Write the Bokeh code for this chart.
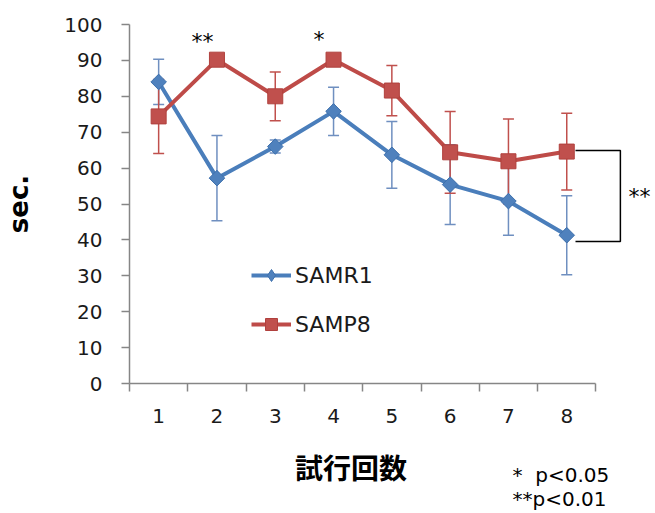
from bokeh.plotting import figure
from bokeh.layouts import column
from bokeh.models import Range1d, FixedTicker, Label, Legend, LegendItem
from bokeh.embed import file_html
from bokeh.resources import INLINE
from bokeh.core.properties import value

# ---- data ----
trials = [1, 2, 3, 4, 5, 6, 7, 8]
samr1 = [84.0, 57.2, 66.0, 75.8, 63.7, 55.4, 50.8, 41.3]
samr1_err = [6.3, 11.9, 1.8, 6.7, 9.3, 11.1, 9.5, 11.0]
samp8 = [74.4, 90.2, 80.0, 90.2, 81.6, 64.4, 61.9, 64.6]
samp8_err = [10.3, 1.5, 6.8, 1.5, 7.0, 11.4, 11.8, 10.7]
y_ticks = [0, 10, 20, 30, 40, 50, 60, 70, 80, 90, 100]
sig_trials = [2, 4]
sig_marks = ["**", "*"]

BLUE = "#4A7EBB"
RED = "#BE4B48"
BLUE_ERR = "#6F8FC0"
RED_ERR = "#C0504D"
AXIS = "#868686"

# frame geometry helpers (annotation placement only)
W = 655
FL, FR, FT, FB = 129, 655, 24, 383
H1 = 445
XMAX = 0.5 + (FR - FL) / 58.3


def px_to_x(px):
    return 0.5 + (px - FL) * (XMAX - 0.5) / (FR - FL)


def py_to_y(py):
    return (FB - py) * 100.0 / (FB - FT)


p = figure(width=W, height=H1, output_backend="svg", toolbar_location=None,
           x_range=Range1d(0.5, XMAX), y_range=Range1d(0, 100),
           min_border_left=FL, min_border_right=0, min_border_top=FT,
           min_border_bottom=H1 - FB)
p.outline_line_color = None
p.xgrid.grid_line_color = None
p.ygrid.grid_line_color = None
p.background_fill_color = "white"
p.border_fill_color = "white"

# x axis
xa = p.xaxis[0]
xa.ticker = FixedTicker(ticks=trials, minor_ticks=[t - 0.5 for t in trials] + [trials[-1] + 0.5])
xa.bounds = (0.5, 8.5)
xa.axis_line_color = AXIS
xa.axis_line_width = 1.5
xa.major_tick_line_color = None
xa.major_tick_out = 0
xa.major_tick_in = 0
xa.minor_tick_line_color = AXIS
xa.minor_tick_line_width = 1.5
xa.minor_tick_out = 8
xa.minor_tick_in = 0
xa.major_label_standoff = 17
xa.major_label_text_font = "DejaVu Sans"
xa.major_label_text_font_size = "20px"
xa.major_label_text_color = "#1a1a1a"

# y axis
ya = p.yaxis[0]
ya.ticker = FixedTicker(ticks=y_ticks, minor_ticks=[])
ya.bounds = (0, 100)
ya.axis_line_color = AXIS
ya.axis_line_width = 1.5
ya.major_tick_line_color = AXIS
ya.major_tick_line_width = 1.5
ya.major_tick_out = 8
ya.major_tick_in = 0
ya.major_label_standoff = 19
ya.major_label_text_font = "DejaVu Sans"
ya.major_label_text_font_size = "20px"
ya.major_label_text_color = "#1a1a1a"
ya.axis_label = "sec."
ya.axis_label_text_font = "DejaVu Sans"
ya.axis_label_text_font_style = "bold"
ya.axis_label_text_font_size = "26px"
ya.axis_label_text_line_height = 1.0
ya.axis_label_text_color = "black"
ya.axis_label_standoff = 27

# error bars
for ys, es, col in ((samr1, samr1_err, BLUE_ERR), (samp8, samp8_err, RED_ERR)):
    lo = [v - e for v, e in zip(ys, es)]
    hi = [v + e for v, e in zip(ys, es)]
    p.segment(x0=trials, y0=lo, x1=trials, y1=hi, line_color=col, line_width=1.5)
    p.scatter(x=trials, y=lo, marker="dash", size=11, line_color=col, line_width=1.5)
    p.scatter(x=trials, y=hi, marker="dash", size=11, line_color=col, line_width=1.5)

# series
l1 = p.line(trials, samr1, line_color=BLUE, line_width=4)
# diamond glyph (shown in the legend; hidden under the rotated squares in the plot)
m1_leg = p.scatter(trials, samr1, marker="diamond", size=15,
                   fill_color="#4F81BD", line_color="#3F71AD", line_width=1)
m1 = p.scatter(trials, samr1, marker="square", angle=0.785398, size=11,
               fill_color="#4F81BD", line_color="#3F71AD", line_width=1)
l2 = p.line(trials, samp8, line_color=RED, line_width=4)
m2 = p.scatter(trials, samp8, marker="square", size=15,
               fill_color="#C0504D", line_color="#B0403D", line_width=1)

legend = Legend(items=[LegendItem(label="SAMR1", renderers=[l1, m1_leg]),
                       LegendItem(label="SAMP8", renderers=[l2, m2])],
                location=(251 - FL, FB - 339), orientation="vertical",
                glyph_width=40, glyph_height=30, label_height=30, label_standoff=4,
                spacing=19, padding=0, margin=0,
                border_line_color=None, background_fill_alpha=0,
                label_text_font="DejaVu Sans", label_text_font_size="22px",
                label_text_color="#1a1a1a")
p.add_layout(legend)

# significance marks
sig_y = [py_to_y(41), py_to_y(39)]
p.text(x=[t - 0.25 for t in sig_trials], y=sig_y, text=sig_marks,
       text_font=value("DejaVu Sans"), text_font_size="22px",
       text_align="center", text_baseline="alphabetic", text_color="black")

# bracket between groups at trial 8
bx0, bx1 = trials[-1] + 0.15, trials[-1] + 0.92
btop, bbot = py_to_y(150), py_to_y(241)
p.line(x=[bx0, bx1, bx1, bx0], y=[btop, btop, bbot, bbot], line_color="black", line_width=1.5)
p.text(x=[px_to_x(628)], y=[py_to_y(196)], text=["**"],
       text_font=value("DejaVu Sans"), text_font_size="22px",
       text_align="left", text_baseline="alphabetic", text_color="black")

# lower strip: x axis title and p-value notes (page pixel coordinates)
q = figure(width=W, height=513 - H1, output_backend="svg", toolbar_location=None,
           x_range=Range1d(FL, W), y_range=Range1d(513, H1),
           x_axis_type=None, y_axis_type=None,
           min_border_left=FL, min_border_right=0, min_border_top=0, min_border_bottom=0)
q.outline_line_color = None
q.xgrid.grid_line_color = None
q.ygrid.grid_line_color = None
q.background_fill_color = "white"
q.border_fill_color = "white"
q.add_layout(Label(x=350.5, y=466, text="試行回数",
                   text_font="Noto Sans CJK JP", text_font_style="bold",
                   text_font_size="28px", text_align="center", text_baseline="middle",
                   text_color="black"))
q.add_layout(Label(x=512, y=474, text="*\u00a0\u00a0p<0.05",
                   text_font="DejaVu Sans", text_font_size="20px",
                   text_align="left", text_baseline="alphabetic", text_color="black"))
q.add_layout(Label(x=512, y=498, text="**p<0.01",
                   text_font="DejaVu Sans", text_font_size="20px",
                   text_align="left", text_baseline="alphabetic", text_color="black"))

layout = column(p, q, spacing=0)
open("out.html", "w").write(file_html(layout, INLINE))
